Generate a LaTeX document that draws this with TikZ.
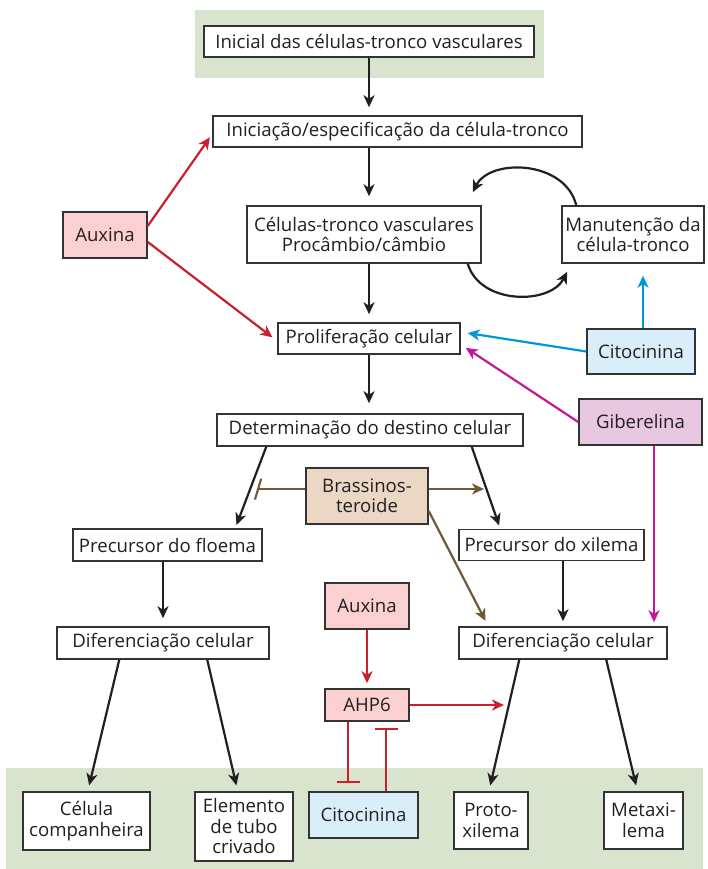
\documentclass[tikz,border=0pt]{standalone}
\usepackage{fontspec}
\setmainfont{Open Sans}
\usetikzlibrary{arrows.meta}
\definecolor{bggreen}{HTML}{D9E4CE}
\definecolor{ink}{HTML}{231F20}
\definecolor{boxline}{HTML}{333333}
\definecolor{auxfill}{HTML}{FBD0D0}
\definecolor{citfill}{HTML}{DAEEFA}
\definecolor{gibfill}{HTML}{E8C8E0}
\definecolor{brafill}{HTML}{EBD8C4}
\definecolor{auxred}{HTML}{C8202C}
\definecolor{citblue}{HTML}{0096DC}
\definecolor{gibmag}{HTML}{C4189A}
\definecolor{brabrown}{HTML}{705A36}

\begin{document}
\begin{tikzpicture}[x=1pt, y=-1pt,
    font=\fontsize{18.6}{20.5}\selectfont, text=ink,
    box/.style={draw=boxline, line width=1.5pt, fill=white, inner sep=0pt, align=center},
    aux/.style={box, fill=auxfill},
    cit/.style={box, fill=citfill},
    gib/.style={box, fill=gibfill},
    bra/.style={box, fill=brafill},
    tip/.style={-{Stealth[length=12pt,width=11pt,inset=3.5pt]}},
    flow/.style={tip, line width=2.2pt, draw=ink},
    redflow/.style={tip, line width=2.2pt, draw=auxred},
    blueflow/.style={tip, line width=2.2pt, draw=citblue},
    magflow/.style={tip, line width=2.2pt, draw=gibmag},
    brownflow/.style={tip, line width=2.2pt, draw=brabrown},
    block/.style={-{Bar[width=23pt]}, line width=2.2pt}]
  \useasboundingbox (0,0) rectangle (707,869);
  % green bands
  \fill[bggreen] (195,10) rectangle (544,78);
  \fill[bggreen] (6,768) rectangle (703,869);

  % main column
  \node[box, minimum width=330pt, minimum height=31pt] (inicial) at (369,41.5) {Inicial das células-tronco vasculares};
  \node[box, minimum width=369pt, minimum height=31pt] (iniciacao) at (397.5,131.5) {Iniciação/especificação da célula-tronco};
  \node[box, minimum width=234pt, minimum height=57pt] (celulas) at (364,234.5) {Células-tronco vasculares\\Procâmbio/câmbio};
  \node[box, minimum width=142pt, minimum height=57pt] (manut) at (633,234.5) {Manutenção da\\célula-tronco};
  \node[box, minimum width=182pt, minimum height=31pt] (prolif) at (369,338.5) {Proliferação celular};
  \node[box, minimum width=306pt, minimum height=32pt] (determ) at (370,430) {Determinação do destino celular};
  \node[box, minimum width=189pt, minimum height=32pt] (pfloema) at (167.5,545) {Precursor do floema};
  \node[box, minimum width=185pt, minimum height=31pt] (pxilema) at (551.5,545) {Precursor do xilema};
  \node[box, minimum width=212pt, minimum height=32pt] (difL) at (163,643) {Diferenciação celular};
  \node[box, minimum width=208pt, minimum height=32pt] (difR) at (563,643) {Diferenciação celular};

  % hormones
  \node[aux, minimum width=84pt, minimum height=46pt] (auxina1) at (105,235) {Auxina};
  \node[cit, minimum width=108pt, minimum height=45pt] (cito1) at (641,351.5) {Citocinina};
  \node[gib, minimum width=123pt, minimum height=46pt] (giber) at (640.5,422) {Giberelina};
  \node[bra, minimum width=122pt, minimum height=56pt] (brass) at (367,496) {Brassinos-\\teroide};
  \node[aux, minimum width=84pt, minimum height=46pt] (auxina2) at (367,606) {Auxina};
  \node[aux, minimum width=84pt, minimum height=32pt] (ahp6) at (367,705) {AHP6};

  % end products
  \node[box, minimum width=127pt, minimum height=58pt] (celcomp) at (86.5,821) {Célula\\companheira};
  \node[box, minimum width=98pt, minimum height=69pt] (elemento) at (244,826.5) {Elemento\\de tubo\\crivado};
  \node[cit, minimum width=109pt, minimum height=46pt] (cito2) at (363.5,815) {Citocinina};
  \node[box, minimum width=74pt, minimum height=57pt] (proto) at (491,820.5) {Proto-\\xilema};
  \node[box, minimum width=79pt, minimum height=57pt] (metaxi) at (643.5,820.5) {Metaxi-\\lema};

  \coordinate (braend) at (484,489);
  \coordinate (brablock) at (257,489);
  \coordinate (ahpend) at (504,705);

  % black flow
  \draw[flow, shorten >=8pt] (inicial.south) -- (inicial.south |- iniciacao.north);
  \draw[flow, shorten >=9pt] (iniciacao.south -| inicial) -- (celulas.north -| inicial);
  \draw[flow, shorten >=8pt] (celulas.south -| prolif) -- (prolif.north);
  \draw[flow, shorten >=10pt] (prolif.south) -- (prolif.south |- determ.north);
  \draw[flow, shorten >=3.5pt] ([xshift=50pt]determ.south west) -- ([xshift=163pt]pfloema.north west);
  \draw[flow, shorten >=3.5pt] ([xshift=-52pt]determ.south east) -- ([xshift=42pt]pxilema.north west);
  \draw[flow, shorten >=8pt] (pfloema.south -| difL) -- (difL.north);
  \draw[flow, shorten >=5pt] (pxilema.south -| difR) -- (difR.north);
  \draw[flow, shorten >=6pt] ([xshift=63pt]difL.south west) -- ([xshift=65.5pt]celcomp.north west);
  \draw[flow, shorten >=6pt] ([xshift=151pt]difL.south west) -- ([xshift=43.5pt]elemento.north west);
  \draw[flow, shorten >=6pt] ([xshift=61pt]difR.south west) -- ([xshift=35.7pt]proto.north west);
  \draw[flow, shorten >=6pt] ([xshift=148pt]difR.south west) -- ([xshift=34.2pt]metaxi.north west);
  % self-renewal loop
  \draw[flow] ([xshift=15pt]manut.north west) .. controls (565,160) and (490,158) .. ([xshift=-9pt,yshift=13pt]celulas.north east);
  \draw[flow] ([xshift=-14pt]celulas.south east) .. controls (480,305) and (550,305) .. ([xshift=6pt,yshift=-8pt]manut.south west);

  % auxin
  \draw[redflow, shorten >=4pt] ([yshift=9pt]auxina1.east) -- ([yshift=-2.5pt]iniciacao.west);
  \draw[redflow, shorten >=6pt] ([yshift=-7pt]auxina1.east) -- ([yshift=-2.5pt]prolif.west);
  \draw[redflow, shorten >=5pt] (auxina2) -- (ahp6);
  \draw[redflow] (ahp6.east) -- (ahpend);
  \draw[block, auxred, shorten >=8pt] ([xshift=24pt]ahp6.south west) -- ([xshift=40pt]cito2.north west);
  \draw[block, auxred, shorten >=6pt] ([xshift=78pt]cito2.north west) -- ([xshift=62pt]ahp6.south west);

  % cytokinin, gibberellin
  \draw[blueflow, shorten >=12pt] ([xshift=2pt]cito1.north) -- ([xshift=2pt]cito1.north |- manut.south);
  \draw[blueflow, shorten >=7pt] (cito1.west) -- ([yshift=6.5pt]prolif.east);
  \draw[magflow, shorten >=6pt] (giber.west) -- ([yshift=-6pt]prolif.east);
  \draw[magflow, shorten >=4pt] ([xshift=13.5pt]giber.south) -- ([xshift=13.5pt]giber.south |- difR.north);

  % brassinosteroid
  \draw[-{Bar[width=21pt,slant=0.3]}, line width=2.2pt, brabrown] ([yshift=7pt]brass.west) -- (brablock);
  \draw[brownflow] ([yshift=7pt]brass.east) -- (braend);
  \draw[brownflow, shorten >=6pt] ([yshift=-15pt]brass.east) -- ([xshift=30pt]difR.north west);
\end{tikzpicture}
\end{document}
